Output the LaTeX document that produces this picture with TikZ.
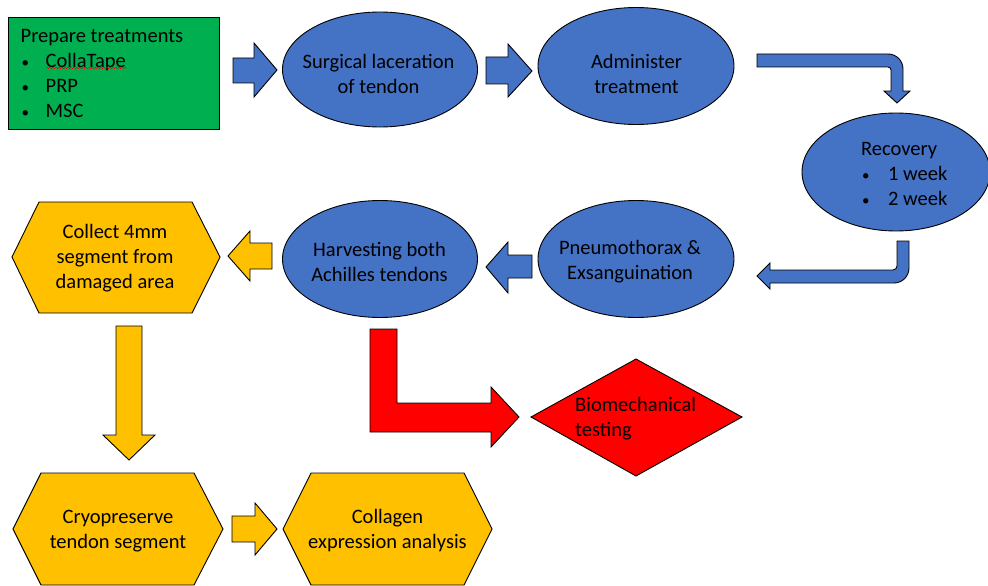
\documentclass[tikz,border=0pt]{standalone}
\usepackage{fontspec}
\setmainfont{Carlito}
\usetikzlibrary{shapes.geometric,decorations.pathmorphing}
\definecolor{oblue}{HTML}{4472C4}
\definecolor{ogreen}{HTML}{00B050}
\definecolor{oyellow}{HTML}{FFC000}
\definecolor{ored}{HTML}{FF0000}
\newcommand{\bul}[1]{\makebox[#1][l]{\hspace{1pt}{\fontsize{15}{15}\selectfont •}}}
\begin{document}
\begin{tikzpicture}[x=1pt,y=-1pt,
  font=\fontsize{20.5}{25}\selectfont,
  outl/.style={draw=black, line width=0.9pt},
  ell/.style={ellipse, outl, fill=oblue, inner sep=0pt},
  bluearr/.style={outl, fill=oblue},
  yelarr/.style={outl, fill=oyellow},
  hexa/.style={outl, fill=oyellow},
  txt/.style={inner sep=0pt, align=center},
  ltxt/.style={inner sep=0pt, align=left, anchor=west}]
\useasboundingbox (0,0) rectangle (988,586);

% green box
\draw[outl, fill=ogreen] (8,17) rectangle (219,129);
\node[ltxt] (prep) at (20.5,73.5) {Prepare treatments\\
  \bul{25pt}CollaTape\\
  \bul{25pt}PRP\\
  \bul{25pt}MSC};
\draw[ored, line width=0.5pt, decorate, decoration={snake, amplitude=0.7pt, segment length=3pt}] (46,68) -- (127,68);

% ellipses
\node[ell, minimum width=195pt, minimum height=115pt] (surg) at (380,69.5) {};
\node[txt] (surgtxt) at (378.5,73.5) {Surgical laceration\\of tendon};
\node[ell, minimum width=196pt, minimum height=117pt] (admin) at (636,66) {};
\node[txt] (admintxt) at (636.5,73.5) {Administer\\treatment};
\node[ell, minimum width=188pt, minimum height=118pt] (recov) at (896,172) {};
\node[ltxt] (recovtxt) at (861,173.5) {Recovery\\
  \bul{27pt}1 week\\
  \bul{27pt}2 week};
\node[ell, minimum width=195pt, minimum height=117pt] (harv) at (380,259) {};
\node[txt] (harvtxt) at (379.5,262) {Harvesting both\\Achilles tendons};
\node[ell, minimum width=196pt, minimum height=117pt] (pneu) at (636,259) {};
\node[txt] (pneutxt) at (630,262) {Pneumothorax \&\\Exsanguination};

% hexagons
\draw[hexa] (12,257) -- (39,202) -- (192,202) -- (220,257) -- (192,313) -- (39,313) -- cycle;
\node[txt] (collect) at (115,258) {Collect 4mm\\segment from\\damaged area};
\draw[hexa] (13,529) -- (41,473) -- (194,473) -- (223,529) -- (194,585) -- (41,585) -- cycle;
\node[txt] (cryo) at (118,531) {Cryopreserve\\tendon segment};
\draw[hexa] (283,529) -- (311,473) -- (464,473) -- (492,529) -- (464,585) -- (311,585) -- cycle;
\node[txt] (collagen) at (387.5,530.5) {Collagen\\expression analysis};

% diamond
\draw[outl, fill=ored] (531,417) -- (636,359) -- (742,417) -- (636,476) -- cycle;
\node[ltxt] (bio) at (575,419) {Biomechanical\\testing};

% block arrows
\draw[bluearr] (233,58) -- (254,58) -- (254,43) -- (277,70) -- (254,97) -- (254,83) -- (233,83) -- cycle;
\draw[bluearr] (486,57) -- (508,57) -- (508,44) -- (532,71) -- (508,97) -- (508,84) -- (486,84) -- cycle;
\draw[bluearr] (757,54) -- (888,54) .. controls (896.3,54) and (903,60.7) .. (903,69)
  -- (903,91) -- (910,91) -- (897,103) -- (884,91) -- (891,91) -- (891,70)
  .. controls (891,68.3) and (889.7,67) .. (888,67) -- (757,67) -- cycle;
\draw[bluearr] (897,241) -- (909,241) -- (909,268) .. controls (909,276.3) and (902.3,283) .. (894,283)
  -- (770,283) -- (770,289) -- (757,276) -- (770,263) -- (770,270) -- (893,270)
  .. controls (895.2,270) and (897,268.2) .. (897,266) -- cycle;
\draw[bluearr] (532,255) -- (508,255) -- (508,242) -- (486,267) -- (508,293) -- (508,278) -- (532,278) -- cycle;
\draw[yelarr] (272,243) -- (250,243) -- (250,231) -- (228,256) -- (250,281) -- (250,269) -- (272,269) -- cycle;
\draw[yelarr] (116,326) -- (142,326) -- (142,435) -- (155,435) -- (129,460) -- (103,435) -- (116,435) -- cycle;
\draw[yelarr] (232,516) -- (255,516) -- (255,503) -- (277,529) -- (255,555) -- (255,542) -- (232,542) -- cycle;
\draw[outl, fill=ored] (370,329) -- (397,329) -- (397,403) -- (491,403) -- (491,387) -- (519,417)
  -- (491,447) -- (491,432) -- (370,432) -- cycle;
\end{tikzpicture}
\end{document}
